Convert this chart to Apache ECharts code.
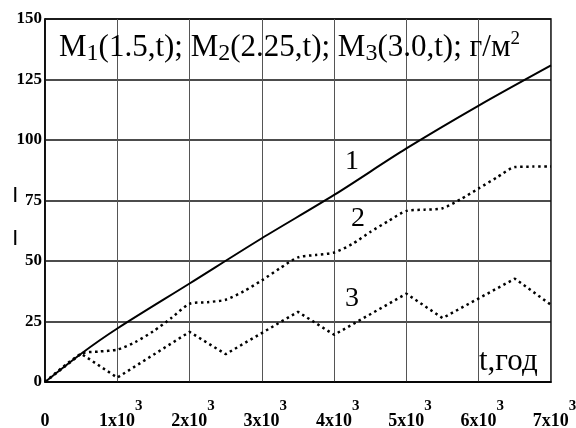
<!DOCTYPE html>
<html><head><meta charset="utf-8">
<script src="https://cdn.jsdelivr.net/npm/echarts@6/dist/echarts.min.js"></script>
<style>html,body{margin:0;padding:0;background:#fff}#c{width:576px;height:428px}</style>
</head><body><div id="c"></div>
<script>
// curve 1 (solid)
const t1 = [0, 500, 1000, 2000, 3000, 4000, 5000, 6000, 7000];
const m1 = [0, 11.7, 22.1, 40.7, 59.4, 77.3, 96.5, 114.2, 130.8];
// curve 2 (dotted)
const t2 = [0, 500, 750, 1000, 1250, 1500, 1750, 2000, 2250, 2500, 2750, 3000, 3250, 3500, 3750, 4000, 4250, 4500, 4750, 5000, 5250, 5500, 5750, 6000, 6250, 6500, 6750, 7000];
const m2 = [0, 11.7, 12.6, 13.4, 16.5, 21, 26.5, 32.3, 33, 34, 37.5, 42, 47, 51.5, 52.5, 53.5, 57, 62, 66.5, 70.7, 71.2, 71.8, 75.5, 80, 84.5, 88.8, 89, 89];
// curve 3 (dotted)
const t3 = [0, 500, 1000, 2000, 2500, 3500, 4000, 5000, 5500, 6500, 7000];
const m3 = [0, 11.7, 1.8, 20.7, 11.5, 29, 19.5, 36.5, 26.4, 42.7, 31.9];
const curveLabels = ['1', '2', '3'];
const xUnit = 't,год';

const LF = '"Liberation Serif", serif';
const SF = '"Liberation Serif", serif';
const chart = echarts.init(document.getElementById('c'), null, {renderer: 'canvas'});
const pairs = (t, m) => t.map((v, i) => [v, m[i]]);
const dotted = {color: '#000', width: 2.5, type: [2.5, 3.5]};
chart.setOption({
  animation: false,
  backgroundColor: '#fff',
  title: {
    text: '{a|M}{s|1}{a|(1.5,t); M}{s|2}{a|(2.25,t); M}{s|3}{a|(3.0,t); г/м}{p|2}',
    left: 54, top: 25,
    textStyle: {
      fontWeight: 'normal',
      rich: {
        a: {fontFamily: SF, fontWeight: 'normal', fontSize: 31, color: '#000', lineHeight: 36},
        s: {fontFamily: SF, fontWeight: 'normal', fontSize: 24, color: '#000', lineHeight: 28, verticalAlign: 'bottom'},
        p: {fontFamily: SF, fontWeight: 'normal', fontSize: 19, color: '#000', lineHeight: 19, verticalAlign: 'top'}
      }
    }
  },
  grid: {left: 45, right: 25, top: 19, bottom: 46, show: true, borderColor: '#000', borderWidth: 1.5, containLabel: false, outerBoundsMode: 'none'},
  xAxis: {
    type: 'value', min: 0, max: 7000, interval: 1000,
    axisLine: {show: true, lineStyle: {color: '#000', width: 1.5}},
    axisTick: {show: false},
    splitLine: {show: true, lineStyle: {color: '#555', width: 1}},
    axisLabel: {
      margin: 14, color: '#000',
      formatter: v => v === 0 ? '{z|}{m|0}' : '{w|}{m|' + (v / 1000) + 'x10}{e|3}',
      rich: {
        z: {width: 0, lineHeight: 34},
        w: {width: 7, lineHeight: 34},
        m: {fontFamily: LF, fontWeight: 'bold', fontSize: 18, color: '#000', lineHeight: 22, verticalAlign: 'bottom'},
        e: {fontFamily: LF, fontWeight: 'bold', fontSize: 15, color: '#000', lineHeight: 15, verticalAlign: 'top', padding: [3, 0, 0, 0]}
      }
    }
  },
  yAxis: {
    type: 'value', min: 0, max: 150, interval: 25,
    axisLine: {show: true, lineStyle: {color: '#000', width: 1.5}},
    axisTick: {show: false},
    splitLine: {show: true, lineStyle: {color: '#111', width: 1.5}},
    axisLabel: {margin: 3, color: '#000', fontFamily: LF, fontWeight: 'bold', fontSize: 17}
  },
  series: [
    {type: 'line', data: pairs(t1, m1), smooth: 0.3, showSymbol: false, lineStyle: {color: '#000', width: 2}},
    {type: 'line', data: pairs(t2, m2), smooth: 0.25, showSymbol: false, lineStyle: dotted},
    {type: 'line', data: pairs(t3, m3), smooth: false, showSymbol: false, lineStyle: dotted}
  ],
  graphic: [
    {type: 'text', left: 345, top: 148, style: {text: curveLabels[0], font: '28px "Liberation Serif", serif', fill: '#000'}},
    {type: 'text', left: 351, top: 205, style: {text: curveLabels[1], font: '28px "Liberation Serif", serif', fill: '#000'}},
    {type: 'text', left: 345, top: 285, style: {text: curveLabels[2], font: '28px "Liberation Serif", serif', fill: '#000'}},
    {type: 'text', left: 479, top: 346, style: {text: xUnit, font: '31px "Liberation Serif", serif', fill: '#000'}},
    {type: 'text', left: 13, top: 187, style: {text: '|', font: 'bold 16px "Liberation Sans", sans-serif', fill: '#000'}},
    {type: 'text', left: 13, top: 230, style: {text: '|', font: 'bold 16px "Liberation Sans", sans-serif', fill: '#000'}}
  ]
});
</script></body></html>
